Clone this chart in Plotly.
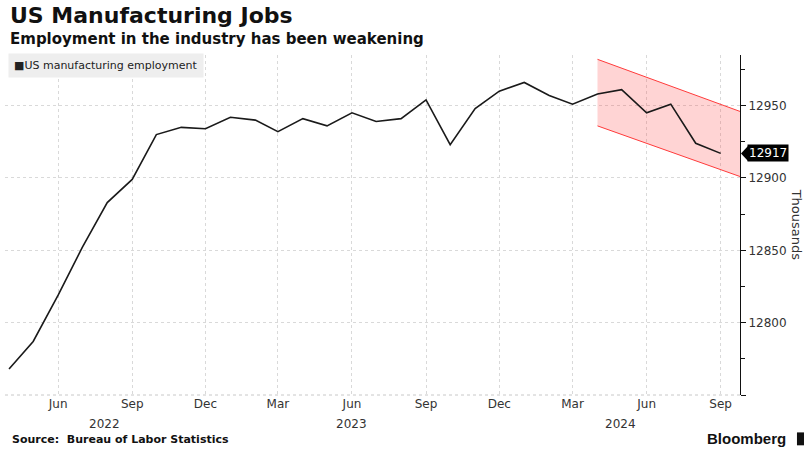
import pandas as pd
import plotly.graph_objects as go

# Monthly US manufacturing employment (thousands), Apr 2022 - Sep 2024
months = pd.date_range("2022-04-01", periods=30, freq="MS")
employment = [
    12768, 12787, 12819, 12852, 12883, 12899, 12930, 12935, 12934,          # 2022
    12942, 12940, 12932, 12941, 12936, 12945, 12939, 12941, 12954,          # 2023
    12923, 12948, 12960,
    12966, 12957, 12951, 12958, 12961, 12945, 12951, 12924, 12917,          # 2024
]

# Downward trend channel over the latest months
channel_dates = ["2024-04-01", "2024-09-25"]
channel_upper = [12982, 12946]
channel_lower = [12936, 12901]

# Axis ticks
x_tick_dates = ["2022-06-01", "2022-09-01", "2022-12-01", "2023-03-01", "2023-06-01",
                "2023-09-01", "2023-12-01", "2024-03-01", "2024-06-01", "2024-09-01"]
x_tick_labels = ["Jun", "Sep", "Dec", "Mar", "Jun", "Sep", "Dec", "Mar", "Jun", "Sep"]
year_labels = ["2022", "2023", "2024"]
year_label_dates = ["2022-07-29", "2023-06-01", "2024-04-30"]
y_tick_vals = [12750, 12800, 12850, 12900, 12950]
y_tick_text = ["", "12800", "12850", "12900", "12950"]

last_value = employment[-1]

FONT = "DejaVu Sans"
GRID = "#d9d9d9"

fig = go.Figure()

fig.add_trace(go.Scatter(
    x=channel_dates, y=channel_lower, mode="lines",
    line=dict(color="#ff3b3b", width=1), showlegend=False, hoverinfo="skip",
))
fig.add_trace(go.Scatter(
    x=channel_dates, y=channel_upper, mode="lines",
    line=dict(color="#ff3b3b", width=1), fill="tonexty",
    fillcolor="rgba(255, 60, 60, 0.22)", showlegend=False, hoverinfo="skip",
))
fig.add_trace(go.Scatter(
    x=months, y=employment, mode="lines",
    line=dict(color="#1a1a1a", width=1.6), name="US manufacturing employment",
    showlegend=False,
))

fig.update_xaxes(
    range=["2022-03-27", "2024-09-25"],
    tickmode="array", tickvals=x_tick_dates, ticktext=x_tick_labels,
    showgrid=True, gridcolor=GRID, griddash="dot", gridwidth=1,
    showline=False, ticks="", zeroline=False,
    tickfont=dict(family=FONT, size=12, color="#333333"),
)
fig.update_yaxes(
    range=[12750, 12985], side="right",
    tickmode="array", tickvals=y_tick_vals, ticktext=y_tick_text,
    showgrid=True, gridcolor=GRID, griddash="dot", gridwidth=1,
    showline=True, linecolor="#111111", linewidth=1,
    ticks="outside", ticklen=5, tickcolor="#111111",
    minor=dict(tick0=12750, dtick=25, ticks="outside", ticklen=4, tickcolor="#111111", showgrid=False),
    zeroline=False,
    tickfont=dict(family=FONT, size=12, color="#333333"),
)

annotations = [
    dict(text="<b>US Manufacturing Jobs</b>", xref="paper", yref="paper", x=0, xshift=3,
         y=1.115, xanchor="left", yanchor="middle", showarrow=False,
         font=dict(family=FONT, size=22, color="#111111")),
    dict(text="<b>Employment in the industry has been weakening</b>", xref="paper", yref="paper",
         x=0, xshift=3, y=1.047, xanchor="left", yanchor="middle", showarrow=False,
         font=dict(family=FONT, size=15, color="#111111")),
    dict(text="■US manufacturing employment", xref="paper", yref="paper", x=0, xshift=3,
         y=1, yshift=2, xanchor="left", yanchor="top", showarrow=False,
         bgcolor="#eeeeee", borderpad=5,
         font=dict(family=FONT, size=11, color="#222222")),
    dict(text="Thousands", xref="paper", yref="paper", x=1.078, y=0.5, textangle=90,
         xanchor="center", yanchor="middle", showarrow=False,
         font=dict(family=FONT, size=13, color="#333333")),
    dict(text=f"{last_value}", xref="paper", yref="y", x=1, xshift=7, y=last_value,
         xanchor="left", yanchor="middle", showarrow=False, bgcolor="#000000", borderpad=1,
         font=dict(family=FONT, size=12, color="#ffffff")),
    dict(text="<b>Source:  Bureau of Labor Statistics</b>", xref="paper", yref="paper",
         x=0, xshift=5, y=-0.132, xanchor="left", yanchor="middle", showarrow=False,
         font=dict(family=FONT, size=11, color="#111111")),
    dict(text="<b>Bloomberg</b>", xref="paper", yref="paper", x=1.065, y=-0.127,
         xanchor="right", yanchor="middle", showarrow=False,
         font=dict(family="Liberation Sans", size=15, color="#111111")),
]
for yr, d in zip(year_labels, year_label_dates):
    annotations.append(dict(text=yr, xref="x", yref="paper", x=d, y=-0.085,
                            xanchor="center", yanchor="middle", showarrow=False,
                            font=dict(family=FONT, size=12, color="#333333")))

shapes = [
    # bottom boundary line of the plotting area
    dict(type="line", xref="paper", yref="paper", x0=0, x1=1, y0=0, y1=0,
         line=dict(color="#c8c8c8", width=1, dash="dot")),
    # pointer of the last-value tag
    dict(type="path", xref="paper", yref="y", xsizemode="pixel", ysizemode="pixel",
         xanchor=1, yanchor=last_value,
         path="M1,0 L8,7.5 L8,-7.5 Z", fillcolor="#000000", line=dict(width=0)),
    # Bloomberg mark
    dict(type="rect", xref="paper", yref="paper", x0=1.0775, x1=1.089, y0=-0.148, y1=-0.11,
         fillcolor="#111111", line=dict(width=0)),
]

fig.update_layout(
    width=804, height=450,
    margin=dict(l=5, r=64, t=55, b=55),
    paper_bgcolor="white", plot_bgcolor="white",
    annotations=annotations, shapes=shapes,
    showlegend=False,
)

fig.write_html("out.html")
